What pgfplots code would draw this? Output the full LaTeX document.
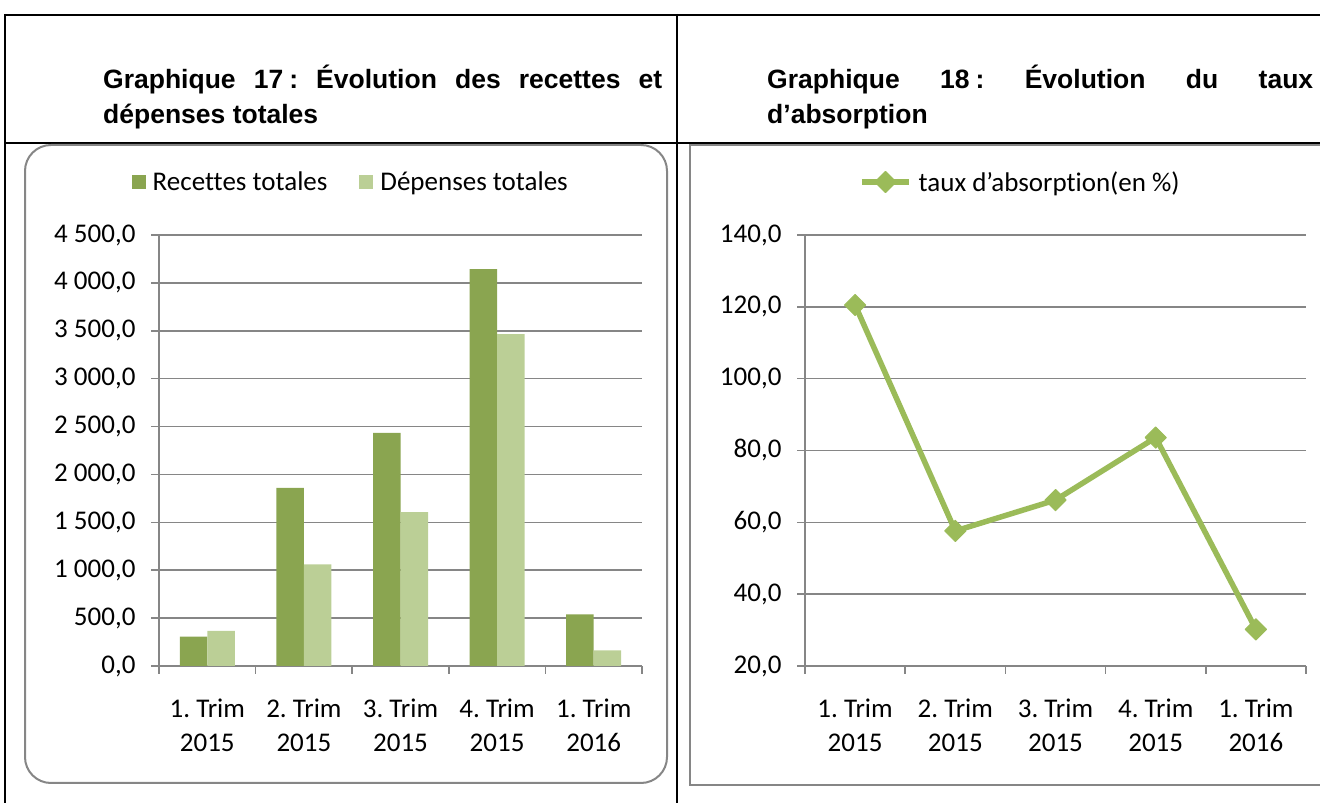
\documentclass[border=0pt]{standalone}
\usepackage{fontspec}
\setmainfont{Carlito}[Ligatures=NoCommon]
\newfontfamily\titlefont{Liberation Sans}
\usepackage{pgfplots}
\pgfplotsset{compat=1.18}
\definecolor{darkg}{RGB}{138,165,80}
\definecolor{lightg}{RGB}{187,207,150}
\definecolor{lineg}{RGB}{155,187,89}
\definecolor{gridg}{RGB}{134,134,134}
\frenchspacing
\pgfplotsset{
  chartbase/.style={
    scale only axis,
    anchor=south west,
    xmin=-0.5, xmax=4.5,
    xtick={0,...,4},
    xticklabels={{1. Trim\\2015},{2. Trim\\2015},{3. Trim\\2015},{4. Trim\\2015},{1. Trim\\2016}},
    minor xtick={-0.5,0.5,...,4.5},
    major x tick style={draw=none},
    axis x line*=bottom,
    axis y line*=left,
    axis line style={gridg, line width=2pt, -},
    ymajorgrids,
    grid style={gridg, line width=1.5pt},
    tick align=outside,
    major tick length=8pt,
    minor tick length=8pt,
    tick style={gridg, line width=1.5pt},
    every tick label/.append style={font=\fontsize{27}{34}\selectfont, text=black},
    xticklabel style={align=center, yshift=-21pt},
    yticklabel style={xshift=-12pt, /pgf/number format/.cd, fixed, fixed zerofill, precision=1, use comma, 1000 sep={\ }, assume math mode=true},
    legend style={draw=none, fill=none, font=\fontsize{27}{32}\selectfont, anchor=center,
      /tikz/every odd column/.append style={column sep=5pt}},
  }
}
\begin{document}
\begin{tikzpicture}
\useasboundingbox (0pt,0pt) rectangle (1320pt,803pt);
% table lines
\draw[black, line width=2pt] (5pt,788pt) -- (1325pt,788pt);
\draw[black, line width=2pt] (5pt,660pt) -- (1325pt,660pt);
\draw[black, line width=2pt] (5pt,789pt) -- (5pt,-5pt);
\draw[black, line width=2pt] (677pt,789pt) -- (677pt,-5pt);
% chart frames
\draw[gridg, line width=2pt, rounded corners=26pt] (25pt,658pt) rectangle (667pt,20pt);
\draw[gridg, line width=2pt] (690pt,658pt) rectangle (1335pt,18pt);
% titles
\node[anchor=base west, inner sep=0pt, font=\titlefont\bfseries\fontsize{26.5}{35}\selectfont] at (103pt,714pt) {\makebox[559pt][s]{Graphique 17\hbox{}\kern6pt: Évolution des recettes et}};
\node[anchor=base west, inner sep=0pt, font=\titlefont\bfseries\fontsize{26.5}{35}\selectfont] at (103pt,679pt) {dépenses totales};
\node[anchor=base west, inner sep=0pt, font=\titlefont\bfseries\fontsize{26.5}{35}\selectfont] at (767pt,714pt) {\makebox[546pt][s]{Graphique 18\hbox{}\kern6pt: Évolution du taux}};
\node[anchor=base west, inner sep=0pt, font=\titlefont\bfseries\fontsize{26.5}{35}\selectfont] at (767pt,679pt) {d’absorption};

\begin{axis}[chartbase,
  at={(159pt,137pt)}, width=483pt, height=431pt,
  ymin=0, ymax=4500, ytick={0,500,...,4500},
  ybar=0pt, bar width=27.5pt,
  legend columns=2,
  legend style={at={(0.397,1.123)}, /tikz/every even column/.append style={column sep=30pt}},
  legend image code/.code={\fill[#1] (0pt,-7pt) rectangle (14pt,7pt);},
]
\addplot[fill=darkg, draw=none] coordinates {(0,306) (1,1860) (2,2435) (3,4145) (4,540)};
\addplot[fill=lightg, draw=none] coordinates {(0,366) (1,1062) (2,1606) (3,3466) (4,164)};
\legend{Recettes totales, Dépenses totales}
\end{axis}

\begin{axis}[chartbase,
  at={(805pt,137pt)}, width=501pt, height=431pt,
  ymin=20, ymax=140, ytick={20,40,...,140},
  legend style={at={(0.430,1.123)}},
  legend image code/.code={\draw[mark repeat=2, mark phase=2, #1] plot coordinates {(0pt,0pt) (23.5pt,0pt) (47pt,0pt)};},
]
\addplot[lineg, line width=5.5pt, line join=round, mark=square*, mark size=7.5pt, mark options={rotate=45, line width=1pt, fill=lineg, solid}] coordinates {(0,120.5) (1,57.6) (2,66.2) (3,83.6) (4,30.2)};
\legend{taux d’absorption(en \%)}
\end{axis}
\end{tikzpicture}
\end{document}
